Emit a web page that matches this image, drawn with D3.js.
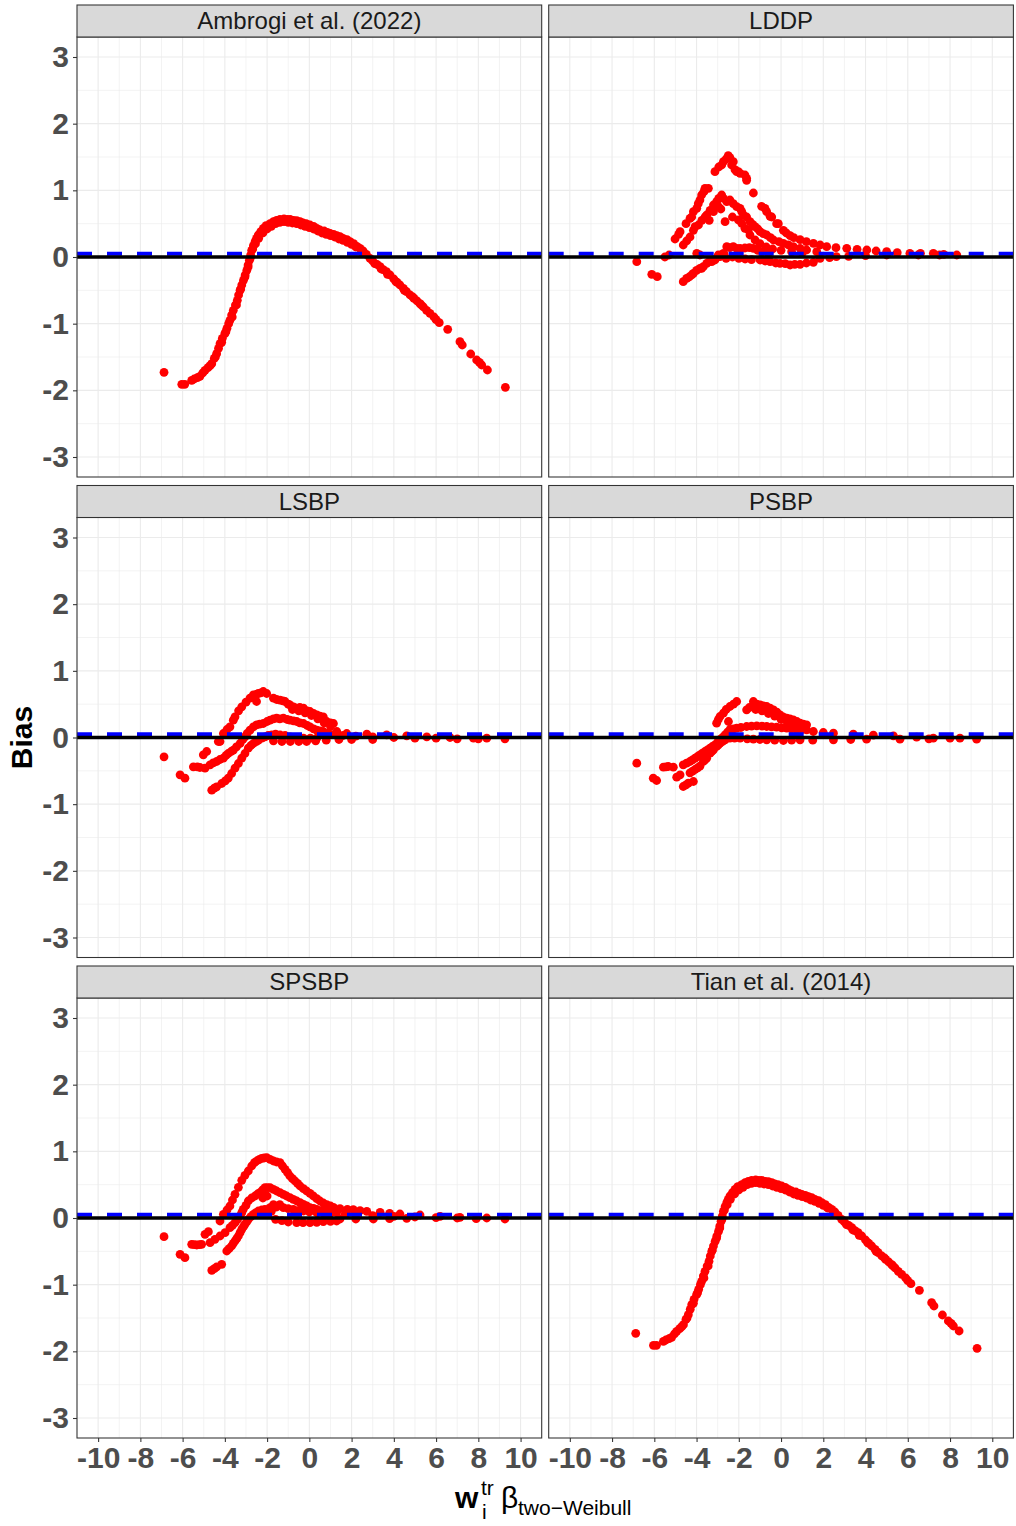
<!DOCTYPE html>
<html>
<head>
<meta charset="utf-8">
<script src="https://cdn.jsdelivr.net/npm/d3@7"></script>
<style>
  body { margin: 0; background: #fff; }
  text { font-family: "Liberation Sans", Arial, Helvetica, sans-serif; }
</style>
</head>
<body>
<svg id="chart" width="1016" height="1526"></svg>
<script>
// ---- data ----
const panelNames = ["Ambrogi et al. (2022)", "LDDP", "LSBP", "PSBP", "SPSBP", "Tian et al. (2014)"];
const xTicks = [-10, -8, -6, -4, -2, 0, 2, 4, 6, 8, 10];
const yTicks = [-3, -2, -1, 0, 1, 2, 3];
const zeroLine = 0;
const dashedLine = 0.05;

const ambrogiPts = [
  [-6.88,-1.73],[-6.04,-1.91],[-5.9,-1.91],[-5.57,-1.85],[-5.45,-1.83],[-5.3,-1.81],[-5.18,-1.79],[-5.05,-1.74],
  [-4.94,-1.7],[-4.8,-1.66],[-4.7,-1.63],[-4.62,-1.6],[-4.5,-1.52],[-4.39,-1.45],[-4.3,-1.37],[-4.23,-1.3],
  [-4.12,-1.22],[-4.0,-1.15],[-3.9,-1.07],[-3.82,-1.0],[-3.76,-0.95],[-3.68,-0.87],[-3.6,-0.8],[-3.5,-0.72],
  [-3.41,-0.65],[-3.35,-0.57],[-3.28,-0.5],[-3.2,-0.42],[-3.12,-0.35],[-3.04,-0.27],[-2.96,-0.2],[-2.9,-0.12],
  [-2.84,-0.05],[-2.78,0.03],[-2.73,0.1],[-2.65,0.17],[-2.57,0.23],[-2.5,0.28],[-2.42,0.33],[-2.3,0.38],
  [-2.18,0.43],[-2.05,0.47],[-1.86,0.5],[-1.7,0.53],[-1.55,0.55],[-1.39,0.565],[-1.2,0.57],[-1.05,0.565],
  [-0.91,0.565],[-0.75,0.55],[-0.6,0.545],[-0.44,0.53],[-0.3,0.51],[-0.15,0.5],[0.03,0.48],[0.2,0.46],
  [0.35,0.43],[0.5,0.405],[0.7,0.39],[0.85,0.37],[0.98,0.355],[1.15,0.34],[1.3,0.32],[1.45,0.305],
  [1.6,0.28],[1.78,0.26],[1.93,0.23],[2.1,0.2],[2.25,0.16],[2.4,0.13],[2.55,0.09],[2.7,0.04],[2.87,-0.02],
  [3.0,-0.06],[3.2,-0.11],[3.35,-0.145],[3.5,-0.19],[3.65,-0.22],[3.82,-0.27],[4.0,-0.33],[4.15,-0.38],
  [4.29,-0.42],[4.45,-0.47],[4.6,-0.52],[4.77,-0.57],[4.95,-0.62],[5.1,-0.66],[5.24,-0.7],[5.4,-0.75],
  [5.55,-0.8],[5.71,-0.845],[5.9,-0.9],[6.0,-0.94],[6.15,-0.985],[6.55,-1.085],[7.13,-1.27],[7.24,-1.32],
  [7.64,-1.455],[7.92,-1.545],[8.05,-1.58],[8.16,-1.62],[8.43,-1.695],[9.28,-1.955],
  [-2.4,0.28],[-2.2,0.36],[-2.0,0.42],[-1.8,0.46],[-1.6,0.5],[-1.4,0.52],[-1.2,0.53],[-1.0,0.52],
  [-0.8,0.51],[-0.6,0.5],[-0.4,0.48],[-0.2,0.46],[0.0,0.44],[0.2,0.42],[0.4,0.39],[0.6,0.36],[0.8,0.34],
  [1.0,0.32],[1.2,0.3],[1.4,0.27],[1.6,0.25],[1.8,0.22],[2.0,0.19],[2.2,0.15],[2.5,0.07],[3.1,-0.1],
  [3.4,-0.18],[3.7,-0.26],[4.1,-0.37],[4.5,-0.5],[4.9,-0.6],[5.3,-0.72],
  [-4.45,-1.5],[-4.15,-1.28],[-3.95,-1.12],[-3.65,-0.9],[-3.45,-0.72],[-3.25,-0.48],[-3.05,-0.3],
  [-2.9,-0.15],[-2.8,-0.02],[-2.68,0.12],[-2.55,0.2]
];

const lddpPts = [
  [-5.02,0.27],[-4.85,0.34],[-4.78,0.38],[-4.5,0.5],[-4.31,0.58],[-4.23,0.6],[-4.15,0.68],[-3.99,0.73],
  [-3.92,0.8],[-3.84,0.855],[-3.76,0.93],[-3.65,0.98],[-3.6,1.03],[-3.44,1.03],[-3.13,1.28],[-2.95,1.35],
  [-2.81,1.38],[-2.73,1.43],[-2.6,1.47],[-2.5,1.52],[-2.42,1.49],[-2.34,1.38],[-2.26,1.43],[-2.18,1.31],
  [-2.1,1.28],[-2.02,1.28],[-1.94,1.255],[-1.71,1.23],[-1.63,1.18],[-1.63,1.15],[-1.31,0.96],[-0.92,0.76],
  [-0.76,0.73],[-0.68,0.68],[-0.52,0.61],[-0.44,0.6],[-0.21,0.5],[-0.13,0.5],[0.11,0.4],[0.25,0.36],
  [0.43,0.32],[0.6,0.29],[0.9,0.26],[1.2,0.23],[1.53,0.205],[1.85,0.18],[2.16,0.155],[2.6,0.14],[3.11,0.13],
  [3.6,0.115],[4.06,0.105],[4.5,0.09],[5.0,0.08],[5.5,0.065],[6.1,0.055],[6.6,0.055],[7.21,0.055],[7.7,0.04],[8.32,0.03],
  [-4.63,0.18],[-4.47,0.24],[-4.31,0.3],[-4.15,0.4],[-4.07,0.455],[-3.91,0.48],[-3.75,0.55],[-3.6,0.6],
  [-3.52,0.63],[-3.36,0.7],[-3.2,0.78],[-3.05,0.83],[-2.95,0.88],[-2.81,0.93],[-2.73,0.88],[-2.57,0.83],
  [-2.42,0.855],[-2.26,0.8],[-2.1,0.755],[-1.94,0.73],[-1.86,0.68],[-1.78,0.63],[-1.63,0.6],[-1.47,0.53],
  [-1.35,0.49],[-1.23,0.455],[-1.1,0.42],[-0.99,0.38],[-0.84,0.35],[-0.68,0.33],[-0.5,0.29],[-0.36,0.255],
  [-0.1,0.23],[0.11,0.205],[0.35,0.18],[0.58,0.155],[0.9,0.13],[1.21,0.105],[1.69,0.08],
  [-3.4,0.55],[-3.2,0.68],[-2.97,0.755],[-2.85,0.72],[-2.65,0.53],[-2.3,0.6],[-2.02,0.555],[-1.86,0.505],
  [-1.71,0.43],[-1.55,0.405],[-1.47,0.33],[-1.23,0.255],[-1.0,0.2],[-0.7,0.15],[-0.4,0.12],[0.0,0.1],[0.5,0.08],[1.0,0.06],
  [-6.83,-0.07],[-6.12,-0.26],[-5.86,-0.295],[-5.5,0.0],[-5.3,0.03],[-4.63,-0.37],[-4.47,-0.32],[-4.35,-0.3],
  [-4.23,-0.27],[-4.15,-0.245],[-4.0,-0.2],[-3.99,0.055],[-3.84,0.03],[-3.84,-0.17],[-3.76,-0.17],[-3.68,-0.145],
  [-3.52,-0.095],[-3.4,-0.07],[-3.28,-0.07],[-3.21,-0.045],[-3.13,-0.045],[-3.0,0.0],[-2.97,0.03],[-2.89,0.005],
  [-2.75,0.05],[-2.7,0.05],[-2.57,0.155],[-2.42,0.14],[-2.26,0.155],[-2.1,0.13],[-1.94,0.13],[-1.71,0.135],
  [-1.5,0.14],[-1.31,0.13],[-1.1,0.1],[-0.9,0.08],[-0.6,0.06],
  [-2.6,-0.02],[-2.3,0.0],[-2.0,-0.02],[-1.7,-0.03],[-1.4,-0.04],[-0.99,-0.045],[-0.75,-0.06],[-0.52,-0.07],
  [-0.25,-0.09],[-0.05,-0.095],[0.2,-0.1],[0.43,-0.12],[0.65,-0.11],[0.9,-0.11],[1.2,-0.09],[1.53,-0.08],
  [1.85,-0.02],[2.3,-0.01],[2.62,0.005],[3.2,0.01],[4.0,0.02],[5.0,0.03],[6.5,0.03],[7.5,0.03]
];

const lsbpPts = [
  [-6.88,-0.29],[-6.12,-0.56],[-5.89,-0.61],[-5.02,-0.26],[-4.86,-0.21],[-4.31,-0.06],[-4.23,-0.06],[-4.07,0.06],
  [-3.9,0.12],[-3.76,0.16],[-3.6,0.26],[-3.52,0.31],[-3.35,0.4],[-3.2,0.46],[-3.0,0.53],[-2.81,0.59],
  [-2.65,0.64],[-2.5,0.54],[-2.5,0.65],[-2.41,0.66],[-2.3,0.67],[-2.18,0.69],[-2.02,0.66],[-1.7,0.59],
  [-1.55,0.57],[-1.39,0.56],[-1.25,0.55],[-1.15,0.54],[-1.0,0.5],[-0.92,0.49],[-0.75,0.46],[-0.6,0.44],
  [-0.45,0.45],[-0.28,0.44],[-0.1,0.4],[0.03,0.39],[0.2,0.36],[0.35,0.34],[0.5,0.32],[0.66,0.31],[0.82,0.24],
  [1.0,0.22],[1.14,0.21],[-0.8,0.42],[-0.5,0.4],[-0.2,0.37],[0.1,0.33],[0.4,0.28],[0.7,0.22],[1.0,0.17],
  [1.3,0.09],[1.77,0.06],[2.72,0.05],[3.66,0.04],[4.61,0.025],[5.56,0.01],[6.66,0.0],[7.77,-0.01],[8.4,-0.01],[9.26,-0.02],
  [-5.49,-0.44],[-5.3,-0.44],[-5.18,-0.45],[-4.94,-0.46],[-4.7,-0.41],[-4.55,-0.38],[-4.39,-0.36],[-4.23,-0.33],
  [-4.07,-0.31],[-3.95,-0.27],[-3.84,-0.24],[-3.7,-0.21],[-3.6,-0.19],[-3.45,-0.14],[-3.28,-0.09],[-3.15,-0.03],
  [-3.05,0.01],[-2.95,0.06],[-2.81,0.11],[-2.65,0.16],[-2.5,0.19],[-2.35,0.2],[-2.18,0.21],[-2.0,0.24],
  [-1.86,0.26],[-1.7,0.28],[-1.55,0.29],[-1.4,0.28],[-1.23,0.29],[-1.05,0.27],[-0.92,0.26],[-0.75,0.25],
  [-0.6,0.24],[-0.45,0.22],[-0.28,0.21],[-0.1,0.18],[0.03,0.16],[0.2,0.13],[0.35,0.11],[0.5,0.1],[0.66,0.09],
  [0.9,0.07],[1.2,0.05],[1.6,0.03],[2.2,0.02],[3.0,0.01],[4.0,0.0],[5.0,-0.01],[6.0,-0.01],[7.0,-0.02],[8.0,-0.02],
  [-4.62,-0.79],[-4.5,-0.76],[-4.39,-0.74],[-4.15,-0.69],[-3.98,-0.65],[-3.84,-0.61],[-3.68,-0.54],[-3.52,-0.46],
  [-3.36,-0.39],[-3.2,-0.31],[-3.05,-0.24],[-2.89,-0.16],[-2.77,-0.12],[-2.65,-0.09],[-2.5,-0.06],[-2.41,-0.04],
  [-2.25,-0.01],[-2.1,0.01],[-1.95,0.03],[-1.78,0.04],[-1.6,0.05],[-1.39,0.04],[-1.15,0.03],[-0.92,0.01],
  [-0.6,0.0],[-0.28,-0.01],[0.05,-0.01],[0.35,-0.01],
  [-1.7,-0.05],[-1.3,-0.06],[-0.9,-0.06],[-0.5,-0.06],[-0.13,-0.06],[0.3,-0.05],[0.8,-0.04],[1.4,-0.03],[2.0,-0.03],[3.0,-0.03]
];

const psbpPts = [
  [-6.83,-0.385],[-6.05,-0.61],[-5.89,-0.645],[-5.57,-0.445],[-5.45,-0.44],[-5.34,-0.435],[-5.1,-0.445],
  [-4.94,-0.595],[-4.78,-0.56],[-4.63,-0.735],[-4.5,-0.71],[-4.39,-0.685],[-4.15,-0.66],
  [-4.63,-0.41],[-4.47,-0.385],[-4.31,-0.36],[-4.19,-0.335],[-4.07,-0.31],[-3.95,-0.285],[-3.84,-0.26],
  [-3.72,-0.235],[-3.6,-0.21],[-3.48,-0.185],[-3.36,-0.16],[-3.25,-0.135],[-3.13,-0.11],[-3.0,-0.07],
  [-2.89,-0.03],[-2.77,0.0],[-2.65,0.04],[-2.53,0.08],[-2.42,0.12],[-2.25,0.13],[-2.1,0.14],[-1.9,0.15],
  [-1.63,0.165],[-1.4,0.17],[-1.15,0.175],[-0.9,0.17],[-0.68,0.165],[-0.45,0.16],[-0.21,0.155],[0.03,0.145],
  [0.27,0.14],[0.5,0.13],[0.74,0.125],[1.0,0.12],[1.21,0.115],[1.53,0.09],[2.0,0.075],[2.48,0.065],[3.42,0.05],
  [4.37,0.035],[5.32,0.025],[6.42,0.005],[7.21,-0.01],[8.0,-0.01],[8.47,-0.01],[9.26,-0.025],
  [-4.31,-0.53],[-4.19,-0.505],[-4.07,-0.48],[-3.95,-0.455],[-3.84,-0.43],[-3.68,-0.36],[-3.6,-0.335],
  [-3.52,-0.31],[-3.36,-0.235],[-3.28,-0.21],[-3.2,-0.185],[-3.05,-0.135],[-2.97,-0.11],[-2.89,-0.085],
  [-2.77,-0.06],[-2.65,-0.035],[-2.42,-0.01],[-2.2,-0.01],[-1.94,-0.01],[-1.6,-0.02],[-1.31,-0.025],[-1.0,-0.03],
  [-0.68,-0.035],[-0.3,-0.04],[0.11,-0.045],[0.5,-0.04],[0.9,-0.035],[1.5,-0.04],[2.48,-0.035],[3.3,-0.03],
  [4.05,-0.025],[5.63,-0.025],[7.0,-0.02],
  [-3.05,0.215],[-2.97,0.27],[-2.89,0.315],[-2.73,0.365],[-2.49,0.24],[-2.6,0.42],[-2.42,0.465],[-2.25,0.5],
  [-2.1,0.54],[-1.63,0.415],[-1.5,0.45],[-1.31,0.54],[-1.15,0.5],[-0.99,0.49],[-0.84,0.475],[-0.68,0.465],
  [-0.52,0.44],[-0.36,0.415],[-0.2,0.38],[-0.05,0.34],[0.1,0.31],[0.27,0.29],[0.42,0.28],[0.58,0.265],
  [0.75,0.24],[0.9,0.215],[1.05,0.2],[1.21,0.19],
  [-1.2,0.42],[-0.9,0.4],[-0.6,0.36],[-0.3,0.32],[0.0,0.27],[0.3,0.22],[0.6,0.19],[0.9,0.17]
];

const spsbpPts = [
  [-6.88,-0.28],[-6.12,-0.545],[-5.89,-0.595],[-5.57,-0.395],[-5.45,-0.4],[-5.33,-0.405],[-5.2,-0.4],[-5.1,-0.395],
  [-4.94,-0.245],[-4.78,-0.205],[-4.62,-0.785],[-4.5,-0.76],[-4.39,-0.735],[-4.15,-0.695],
  [-4.23,-0.045],[-4.07,0.055],[-3.9,0.12],[-3.76,0.18],[-3.64,0.27],[-3.52,0.355],[-3.36,0.46],[-3.2,0.565],
  [-3.05,0.64],[-2.89,0.705],[-2.73,0.78],[-2.6,0.83],[-2.5,0.855],[-2.38,0.875],[-2.26,0.895],[-2.14,0.9],
  [-2.02,0.905],[-1.86,0.88],[-1.7,0.855],[-1.55,0.84],[-1.39,0.83],[-1.27,0.78],[-1.15,0.73],[-1.03,0.68],
  [-0.92,0.63],[-0.8,0.59],[-0.68,0.555],[-0.56,0.52],[-0.44,0.48],[-0.28,0.44],[-0.13,0.405],[0.03,0.37],
  [0.19,0.33],[0.35,0.29],[0.5,0.255],[0.66,0.225],[0.82,0.2],[1.0,0.18],[1.14,0.16],[1.45,0.14],[1.8,0.13],
  [2.08,0.125],[2.4,0.11],[2.72,0.1],[3.35,0.085],[3.8,0.07],[4.29,0.06],[5.24,0.045],[6.19,0.025],[7.13,0.01],
  [8.4,0.0],[9.26,-0.015],
  [-4.7,-0.37],[-4.47,-0.32],[-4.23,-0.27],[-3.99,-0.22],[-3.76,-0.145],[-3.64,-0.11],[-3.52,-0.07],[-3.4,-0.02],
  [-3.28,0.03],[-3.2,0.08],[-3.13,0.13],[-3.0,0.19],[-2.89,0.255],[-2.73,0.3],[-2.57,0.33],[-2.45,0.36],
  [-2.34,0.38],[-2.22,0.42],[-2.1,0.455],[-1.98,0.455],[-1.86,0.455],[-1.7,0.43],[-1.55,0.405],[-1.39,0.38],
  [-1.23,0.355],[-1.08,0.33],[-0.92,0.305],[-0.76,0.28],[-0.6,0.255],[-0.44,0.23],[-0.28,0.205],[-0.12,0.18],
  [0.03,0.155],[0.2,0.145],[0.35,0.13],[0.6,0.115],[0.82,0.105],[1.05,0.09],[1.29,0.08],[1.7,0.06],[2.2,0.05],
  [3.0,0.035],[4.0,0.025],[5.0,0.015],[6.0,0.005],[7.0,0.0],[7.9,-0.01],
  [-2.2,0.3],[-2.0,0.33],[-1.86,0.155],[-1.7,0.2],[-1.55,0.165],[-1.4,0.2],[-1.23,0.155],[-1.0,0.14],
  [-0.76,0.13],[-0.5,0.115],[-0.28,0.105],[0.0,0.09],[0.35,0.08],[0.7,0.07],[0.98,0.065],
  [-3.91,-0.495],[-3.8,-0.46],[-3.68,-0.42],[-3.6,-0.38],[-3.52,-0.345],[-3.44,-0.31],[-3.36,-0.27],[-3.28,-0.22],
  [-3.2,-0.17],[-3.12,-0.13],[-3.05,-0.095],[-2.97,-0.06],[-2.89,-0.02],[-2.77,0.02],[-2.65,0.055],[-2.53,0.08],
  [-2.41,0.105],[-2.25,0.12],[-2.1,0.13],[-1.95,0.12],[-1.8,0.1],
  [-1.6,-0.02],[-1.3,-0.04],[-1.0,-0.06],[-0.6,-0.07],[-0.3,-0.07],[0.03,-0.07],[0.35,-0.065],[0.66,-0.055],
  [1.0,-0.05],[1.29,-0.045],[1.45,-0.015],[2.2,-0.015],[3.03,-0.015],[3.8,-0.01],[4.61,-0.005]
];

// Tian et al. panel reads the same as the Ambrogi panel in the picture
const tianPts = ambrogiPts;

const panelData = [ambrogiPts, lddpPts, lsbpPts, psbpPts, spsbpPts, tianPts];

// ---- layout ----
const svg = d3.select("#chart");
svg.append("rect").attr("width", 1016).attr("height", 1526).attr("fill", "#fff");

const colLeft = [77, 548.7];
const rowTop = [5, 485.5, 966];
const panelW = 464.7, panelH = 440, stripH = 32;

const x = d3.scaleLinear().domain([-11, 11]).range([0, panelW]);
const y = d3.scaleLinear().domain([-3.3, 3.3]).range([panelH, 0]);

const xMinor = d3.range(-11, 12, 2);
const yMinor = d3.range(-2.5, 3, 1);

panelNames.forEach((name, i) => {
  const row = Math.floor(i / 2), col = i % 2;
  const g = svg.append("g")
    .attr("transform", `translate(${colLeft[col]},${rowTop[row] + stripH})`);

  g.append("rect").attr("width", panelW).attr("height", panelH).attr("fill", "#fff");

  // grid
  g.selectAll(".vminor").data(xMinor).enter().append("line")
    .attr("x1", d => x(d)).attr("x2", d => x(d)).attr("y1", 0).attr("y2", panelH)
    .attr("stroke", "#ebebeb").attr("stroke-width", 0.6);
  g.selectAll(".hminor").data(yMinor).enter().append("line")
    .attr("y1", d => y(d)).attr("y2", d => y(d)).attr("x1", 0).attr("x2", panelW)
    .attr("stroke", "#ebebeb").attr("stroke-width", 0.6);
  g.selectAll(".vmajor").data(xTicks).enter().append("line")
    .attr("x1", d => x(d)).attr("x2", d => x(d)).attr("y1", 0).attr("y2", panelH)
    .attr("stroke", "#ebebeb").attr("stroke-width", 1.1);
  g.selectAll(".hmajor").data(yTicks).enter().append("line")
    .attr("y1", d => y(d)).attr("y2", d => y(d)).attr("x1", 0).attr("x2", panelW)
    .attr("stroke", "#ebebeb").attr("stroke-width", 1.1);

  // points
  g.selectAll(".pt").data(panelData[i]).enter().append("circle")
    .attr("cx", d => x(d[0])).attr("cy", d => y(d[1])).attr("r", 4.4)
    .attr("fill", "#ff0000");

  // reference lines
  g.append("line")
    .attr("x1", 0).attr("x2", panelW).attr("y1", y(dashedLine)).attr("y2", y(dashedLine))
    .attr("stroke", "#0000ff").attr("stroke-width", 4).attr("stroke-dasharray", "15,15");
  g.append("line")
    .attr("x1", 0).attr("x2", panelW).attr("y1", y(zeroLine)).attr("y2", y(zeroLine))
    .attr("stroke", "#000").attr("stroke-width", 3.5);

  // border
  g.append("rect").attr("width", panelW).attr("height", panelH)
    .attr("fill", "none").attr("stroke", "#333").attr("stroke-width", 1.07);

  // strip
  g.append("rect").attr("y", -stripH).attr("width", panelW).attr("height", stripH)
    .attr("fill", "#d9d9d9").attr("stroke", "#333").attr("stroke-width", 1.07);
  g.append("text").attr("x", panelW / 2).attr("y", -stripH + 24)
    .attr("text-anchor", "middle").attr("font-size", 24).attr("fill", "#1a1a1a")
    .text(name);

  // axes
  if (col === 0) {
    const ay = g.append("g")
      .call(d3.axisLeft(y).tickValues(yTicks).tickSize(4).tickPadding(4).tickFormat(d => String(d)));
    styleAxis(ay);
  }
  if (row === 2) {
    const ax = g.append("g").attr("transform", `translate(0,${panelH})`)
      .call(d3.axisBottom(x).tickValues(xTicks).tickSize(4).tickPadding(5).tickFormat(d => String(d)));
    styleAxis(ax);
  }
});

function styleAxis(a) {
  a.select(".domain").remove();
  a.selectAll(".tick line").attr("stroke", "#333").attr("stroke-width", 1.07);
  a.selectAll(".tick text")
    .attr("font-size", 30).attr("font-weight", "bold").attr("fill", "#4d4d4d")
    .style("font-family", "'Liberation Sans', Arial, sans-serif");
}

// y title
svg.append("text")
  .attr("transform", "translate(32,737.5) rotate(-90)")
  .attr("text-anchor", "middle").attr("font-size", 30).attr("font-weight", "bold")
  .attr("fill", "#000").text("Bias");

// x title: w_i^tr beta_two-Weibull
const xt = svg.append("g");
xt.append("text").attr("x", 455).attr("y", 1508).attr("font-size", 30)
  .attr("font-weight", "bold").text("w");
xt.append("text").attr("x", 481).attr("y", 1495).attr("font-size", 21).text("tr");
xt.append("text").attr("x", 482).attr("y", 1519).attr("font-size", 21).text("i");
xt.append("text").attr("x", 501).attr("y", 1508).attr("font-size", 30).text("β");
xt.append("text").attr("x", 518).attr("y", 1515).attr("font-size", 21).text("two−Weibull");
</script>
</body>
</html>
